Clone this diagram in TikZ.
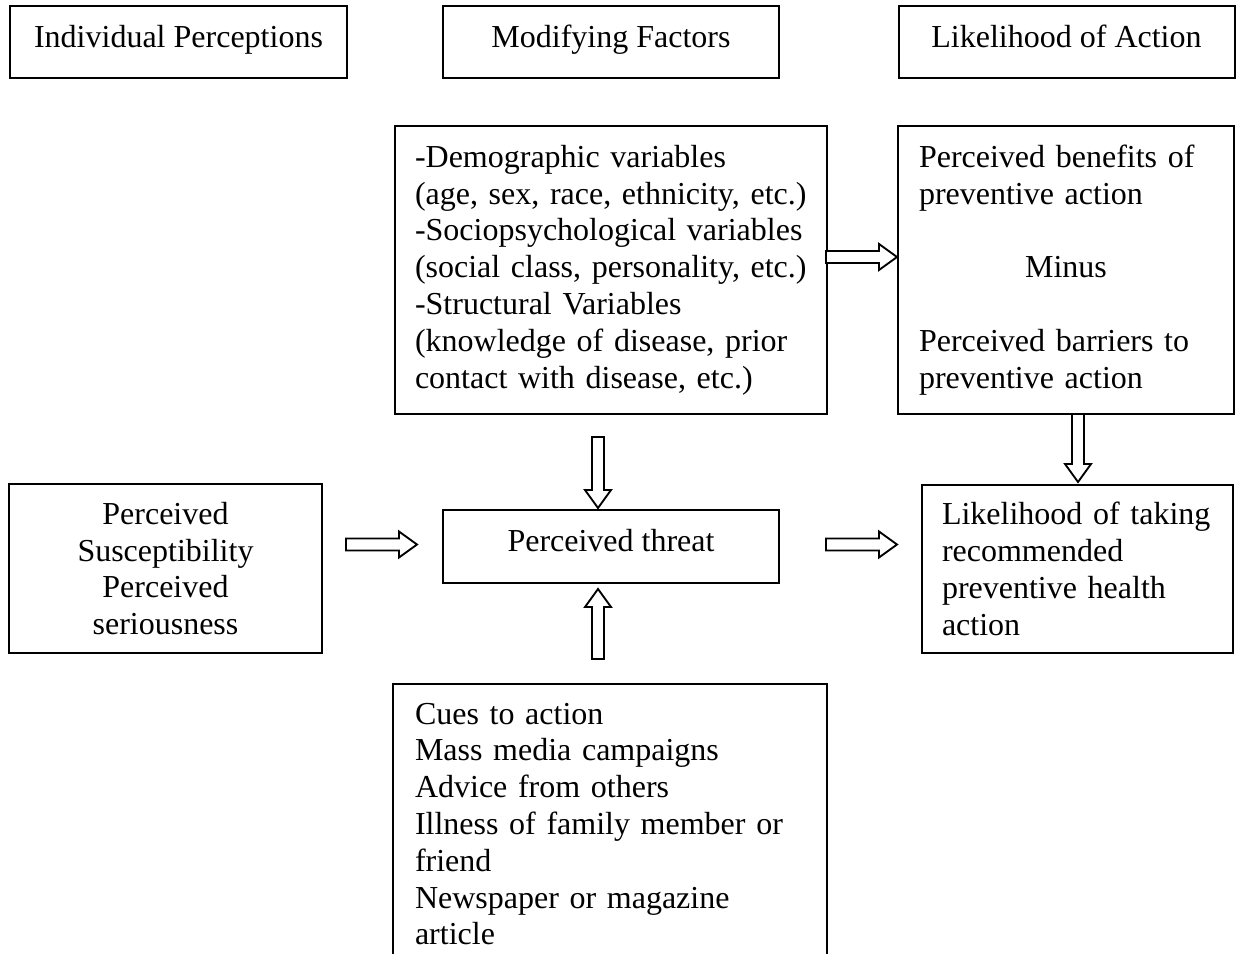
\documentclass[tikz,border=0pt]{standalone}
\usepackage{fontspec}
\setmainfont{Liberation Serif}
\usetikzlibrary{calc}
\tikzset{
  box/.style={draw, line width=0.75pt, inner ysep=0pt, font=\fontsize{12pt}{13.8pt}\selectfont},
  oneline/.style={text height=8.5pt, text depth=4.5pt, inner xsep=0pt, align=center},
  blk/.style={draw, line width=0.7pt, fill=white, line join=miter},
}
\newcommand\BArR[2]{\draw[blk] let \p1=#1, \p2=#2 in
  (\x1,\y1+2.25pt) -- (\x2-6.75pt,\y1+2.25pt) -- (\x2-6.75pt,\y1+4.875pt) -- (\x2,\y1)
  -- (\x2-6.75pt,\y1-4.875pt) -- (\x2-6.75pt,\y1-2.25pt) -- (\x1,\y1-2.25pt) -- cycle;}
\newcommand\BArD[2]{\draw[blk] let \p1=#1, \p2=#2 in
  (\x1-2.25pt,\y1) -- (\x1-2.25pt,\y2+6.75pt) -- (\x1-4.875pt,\y2+6.75pt) -- (\x1,\y2)
  -- (\x1+4.875pt,\y2+6.75pt) -- (\x1+2.25pt,\y2+6.75pt) -- (\x1+2.25pt,\y1) -- cycle;}
\newcommand\BArU[2]{\draw[blk] let \p1=#1, \p2=#2 in
  (\x1-2.25pt,\y1) -- (\x1-2.25pt,\y2-6.75pt) -- (\x1-4.875pt,\y2-6.75pt) -- (\x1,\y2)
  -- (\x1+4.875pt,\y2-6.75pt) -- (\x1+2.25pt,\y2-6.75pt) -- (\x1+2.25pt,\y1) -- cycle;}
\begin{document}
\begin{tikzpicture}[x=0.375pt,y=-0.375pt]
\clip (0,0) rectangle (1240,953);
\fill[white] (0,0) rectangle (1240,953);

% header boxes
\node[box, oneline, minimum width=126.375pt, minimum height=27pt] (ip) at (178.5,42) {Individual Perceptions};
\node[box, oneline, minimum width=126pt, minimum height=27pt] (mf) at (611,42) {Modifying Factors};
\node[box, oneline, minimum width=126pt, minimum height=27pt] (la) at (1066.5,42) {Likelihood of Action};

% modifying factors
\node[box, align=left, text width=147pt, inner xsep=7.5pt, minimum height=108pt] (demo) at (611,270)
  {-Demographic variables\\
   (age, sex, race, ethnicity, etc.)\\
   -Sociopsychological variables\\
   (social class, personality, etc.)\\
   -Structural Variables\\
   (knowledge of disease, prior\\
   contact with disease, etc.)};

% benefits / barriers
\node[box, align=left, text width=110.25pt, inner xsep=7.875pt, minimum height=108pt] (ben) at (1066,270)
  {Perceived benefits of\\
   preventive action\\
   \mbox{}\\
   \makebox[110.25pt]{Minus}\\
   \mbox{}\\
   Perceived barriers to\\
   preventive action};

% individual perceptions
\node[box, align=center, minimum width=117.375pt, minimum height=63.375pt] (lp) at (165.5,568.5)
  {Perceived\\ Susceptibility\\ Perceived\\ seriousness};

% perceived threat
\node[box, oneline, minimum width=126pt, minimum height=27.375pt] (thr) at (611,546.5) {Perceived threat};

% likelihood of taking action
\node[box, align=left, text width=101.625pt, inner xsep=7.5pt, minimum height=63pt] (lk) at (1077.5,569)
  {Likelihood of taking\\
   recommended\\
   preventive health\\
   action};

% cues to action
\node[box, align=left, text width=146.25pt, inner xsep=8.25pt, minimum height=105pt] (cues) at (610,824)
  {Cues to action\\
   Mass media campaigns\\
   Advice from others\\
   Illness of family member or\\
   friend\\
   Newspaper or magazine\\
   article};

% block arrows
\BArR{($(lp.east |- thr.west)+(23,-2)$)}{($(thr.west)+(-25,-2)$)}
\BArR{($(thr.east)+(46,-2)$)}{($(lk.west)+(-24,-2)$)}
\BArR{($(demo.east)+(-2,-13)$)}{($(ben.west)+(0,-13)$)}
\BArD{($(demo.south)+(-13,22)$)}{($(thr.north)+(-13,-1)$)}
\BArU{($(cues.north)+(-12,-24)$)}{($(thr.south)+(-13,5)$)}
\BArD{($(ben.south)+(12,-1)$)}{($(lk.north)+(0.5,-2)$)}
\end{tikzpicture}
\end{document}
